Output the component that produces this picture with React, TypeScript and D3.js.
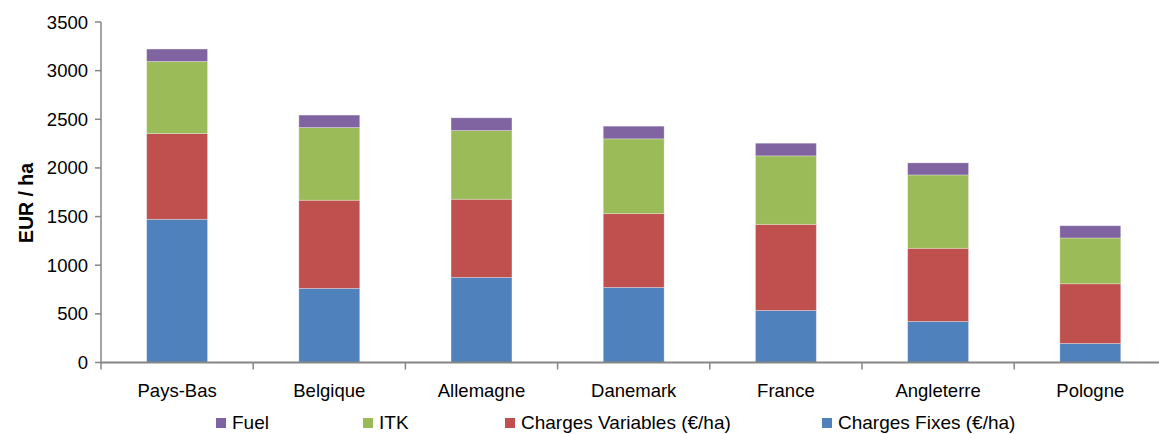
import React from "react";
import * as d3 from "d3";

const categories = ["Pays-Bas", "Belgique", "Allemagne", "Danemark", "France", "Angleterre", "Pologne"];
const chargesFixes = [1472, 762, 875, 772, 535, 422, 196];
const chargesVariables = [881, 906, 803, 758, 885, 752, 613];
const itk = [741, 747, 706, 769, 704, 754, 471];
const fuel = [128, 128, 131, 130, 130, 124, 126];
const yTicks = [0, 500, 1000, 1500, 2000, 2500, 3000, 3500];

const seriesNames = ["Charges Fixes (€/ha)", "Charges Variables (€/ha)", "ITK", "Fuel"];
const seriesColors = ["#4F81BD", "#C0504D", "#9BBB59", "#8064A2"];
const legendOrder = [3, 2, 1, 0];

const W = 1159;
const H = 434;
const FONT = "'Liberation Sans', Arial, sans-serif";

export default function App() {
  const x0 = 101;
  const step = 152.2;
  const x = d3
    .scaleBand<string>()
    .domain(categories)
    .range([x0, x0 + step * categories.length])
    .paddingInner(0.6)
    .paddingOuter(0.3);
  const y = d3.scaleLinear().domain([0, 3500]).range([362.5, 22]);

  const rows = categories.map((c, i) => ({
    cat: c,
    s0: chargesFixes[i],
    s1: chargesVariables[i],
    s2: itk[i],
    s3: fuel[i],
  }));
  const stack = d3.stack<any>().keys(["s0", "s1", "s2", "s3"]);
  const layers = stack(rows);

  const boundaries = d3.range(categories.length + 1).map((i) => x0 + step * i);
  const legendX = [216, 363, 505, 822];

  return (
    <svg width={W} height={H} style={{ position: "absolute", left: 0, top: 0 }}>
      <rect x={0} y={0} width={W} height={H} fill="#fff" />
      {layers.map((layer, li) => (
        <g key={li} fill={seriesColors[li]}>
          {layer.map((d, i) => (
            <rect
              key={i}
              x={x(categories[i])}
              y={y(d[1])}
              width={x.bandwidth()}
              height={y(d[0]) - y(d[1])}
              stroke="#ffffff"
              strokeOpacity={0.35}
              strokeWidth={0.8}
            />
          ))}
        </g>
      ))}
      {/* y axis */}
      <line x1={x0} x2={x0} y1={y(3500)} y2={y(0)} stroke="#868686" strokeWidth={1.5} />
      {yTicks.map((t) => (
        <g key={t}>
          <line x1={x0 - 6} x2={x0} y1={y(t)} y2={y(t)} stroke="#868686" strokeWidth={1.5} />
          <text
            x={88}
            y={y(t) + 6.5}
            textAnchor="end"
            fontFamily={FONT}
            fontSize={18.5}
            fill="#000"
          >
            {t}
          </text>
        </g>
      ))}
      {/* x axis */}
      <line x1={x0} x2={W + 10} y1={y(0)} y2={y(0)} stroke="#868686" strokeWidth={2} />
      {boundaries.map((b, i) => (
        <line key={i} x1={b} x2={b} y1={y(0)} y2={y(0) + 7} stroke="#868686" strokeWidth={1.5} />
      ))}
      {categories.map((c) => (
        <text
          key={c}
          x={(x(c) as number) + x.bandwidth() / 2}
          y={397}
          textAnchor="middle"
          fontFamily={FONT}
          fontSize={18.5}
          fill="#000"
        >
          {c}
        </text>
      ))}
      <text
        transform={`translate(33,203) rotate(-90)`}
        textAnchor="middle"
        fontFamily={FONT}
        fontSize={19.5}
        fontWeight="bold"
        fill="#000"
      >
        EUR / ha
      </text>
      {/* legend */}
      {legendOrder.map((si, k) => (
        <g key={si}>
          <rect x={legendX[k]} y={418} width={10} height={10} fill={seriesColors[si]} />
          <text
            x={legendX[k] + 16}
            y={429}
            fontFamily={FONT}
            fontSize={19}
            fill="#000"
          >
            {seriesNames[si]}
          </text>
        </g>
      ))}
    </svg>
  );
}
